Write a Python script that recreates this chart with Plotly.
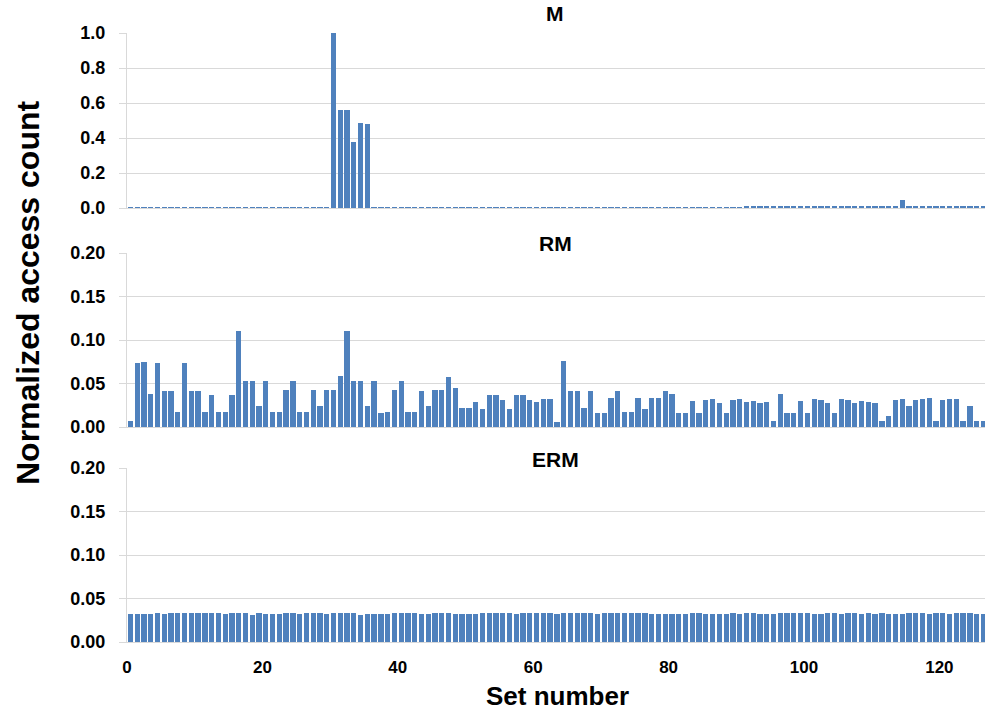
import plotly.graph_objects as go

set_numbers = list(range(128))

m_values = [
    0.005, 0.005, 0.005, 0.005, 0.005, 0.005, 0.005, 0.005, 0.005, 0.005,
    0.005, 0.005, 0.005, 0.002, 0.002, 0.002, 0.002, 0.002, 0.002, 0.002,
    0.002, 0.002, 0.002, 0.002, 0.002, 0.002, 0.002, 0.002, 0.002, 0.002,
    1.0, 0.558, 0.558, 0.375, 0.484, 0.48, 0.002, 0.002, 0.002, 0.002,
    0.002, 0.002, 0.002, 0.002, 0.002, 0.002, 0.002, 0.002, 0.002, 0.002,
    0.002, 0.002, 0.002, 0.002, 0.002, 0.002, 0.002, 0.002, 0.002, 0.002,
    0.002, 0.002, 0.002, 0.002, 0.002, 0.002, 0.002, 0.002, 0.004, 0.004,
    0.004, 0.004, 0.004, 0.004, 0.004, 0.004, 0.004, 0.004, 0.004, 0.004,
    0.004, 0.004, 0.004, 0.004, 0.004, 0.004, 0.004, 0.004, 0.004, 0.004,
    0.004, 0.006, 0.008, 0.008, 0.008, 0.008, 0.012, 0.012, 0.012, 0.012,
    0.012, 0.012, 0.012, 0.012, 0.012, 0.012, 0.012, 0.012, 0.012, 0.012,
    0.012, 0.012, 0.012, 0.006, 0.047, 0.006, 0.012, 0.006, 0.006, 0.008,
    0.006, 0.006, 0.006, 0.006, 0.006, 0.006, 0.006, 0.006,
]

rm_values = [
    0.0065, 0.074, 0.075, 0.038, 0.074, 0.041, 0.041, 0.0175, 0.074, 0.041,
    0.041, 0.0175, 0.037, 0.0175, 0.017, 0.037, 0.110, 0.053, 0.053, 0.024,
    0.053, 0.0175, 0.017, 0.043, 0.053, 0.017, 0.017, 0.043, 0.024, 0.043,
    0.043, 0.0587, 0.110, 0.053, 0.053, 0.024, 0.053, 0.0165, 0.017, 0.043,
    0.053, 0.017, 0.017, 0.0415, 0.024, 0.043, 0.043, 0.058, 0.0446, 0.0213,
    0.0213, 0.029, 0.021, 0.0373, 0.0373, 0.031, 0.021, 0.037, 0.037, 0.031,
    0.0286, 0.032, 0.032, 0.0061, 0.0754, 0.0415, 0.0415, 0.0213, 0.041, 0.0164,
    0.0164, 0.0328, 0.0415, 0.017, 0.017, 0.0328, 0.0206, 0.0335, 0.0335, 0.0415,
    0.0385, 0.016, 0.0164, 0.030, 0.016, 0.031, 0.032, 0.028, 0.0164, 0.031,
    0.032, 0.0286, 0.0297, 0.028, 0.0286, 0.0072, 0.038, 0.0156, 0.016, 0.0297,
    0.016, 0.032, 0.031, 0.028, 0.0156, 0.032, 0.031, 0.0274, 0.0297, 0.029,
    0.028, 0.0072, 0.013, 0.031, 0.032, 0.0236, 0.031, 0.032, 0.0328, 0.0069,
    0.031, 0.032, 0.032, 0.0069, 0.024, 0.0069, 0.0069, 0.007,
]

erm_values = [
    0.0321, 0.0321, 0.0321, 0.0325, 0.0329, 0.0325, 0.0329, 0.0329, 0.0336, 0.0329,
    0.0333, 0.0329, 0.0329, 0.0329, 0.0325, 0.0329, 0.0329, 0.0333, 0.0314, 0.0333,
    0.0325, 0.0317, 0.0325, 0.0329, 0.0333, 0.0325, 0.0333, 0.0329, 0.0329, 0.0325,
    0.0333, 0.0329, 0.0333, 0.0333, 0.0314, 0.0325, 0.0325, 0.0325, 0.0317, 0.0329,
    0.0333, 0.0333, 0.0329, 0.0317, 0.0321, 0.0333, 0.0329, 0.0329, 0.0317, 0.0317,
    0.0317, 0.0321, 0.0329, 0.0333, 0.0329, 0.0333, 0.0329, 0.0317, 0.0333, 0.0329,
    0.0333, 0.0329, 0.0329, 0.0321, 0.0329, 0.0329, 0.0333, 0.0329, 0.0329, 0.0317,
    0.0329, 0.0329, 0.0329, 0.0333, 0.0329, 0.0333, 0.0329, 0.0321, 0.0321, 0.0317,
    0.0321, 0.0321, 0.0321, 0.0333, 0.0329, 0.0321, 0.0321, 0.0321, 0.0321, 0.0329,
    0.0317, 0.0333, 0.0329, 0.0321, 0.0317, 0.0321, 0.0333, 0.0329, 0.0333, 0.0333,
    0.0333, 0.0317, 0.0321, 0.0333, 0.0329, 0.0325, 0.0329, 0.0329, 0.0325, 0.0329,
    0.0325, 0.0329, 0.0321, 0.0321, 0.0325, 0.0329, 0.0329, 0.0329, 0.0325, 0.0333,
    0.0333, 0.0321, 0.0329, 0.0333, 0.0329, 0.0325, 0.0325, 0.0325,
]

panel_titles = ["M", "RM", "ERM"]
x_tick_values = [0, 20, 40, 60, 80, 100, 120]
m_ticks = [0.0, 0.2, 0.4, 0.6, 0.8, 1.0]
rm_ticks = [0.00, 0.05, 0.10, 0.15, 0.20]

BAR_COLOR = "#4F81BD"
GRID = "#D9D9D9"
FONT = "Liberation Sans, Arial"
TICK_FONT = dict(family=FONT, size=18, color="#000000", weight="bold")

fig = go.Figure()

series = [m_values, rm_values, erm_values]
axis_ids = ["", "2", "3"]
for vals, aid in zip(series, axis_ids):
    fig.add_trace(go.Bar(
        x=set_numbers, y=vals, width=0.78, offset=0.11,
        marker=dict(color=BAR_COLOR, line=dict(width=0)),
        xaxis="x" + aid, yaxis="y" + aid, showlegend=False,
    ))

# pixel layout: plot area from y=33 to y=642 (height 609)
H = 609.0
domains = [
    ((642 - 208) / H, 1.0),
    ((642 - 427) / H, (642 - 253) / H),
    (0.0, (642 - 468) / H),
]
x_range = [0, (985 - 127) / 6.77]

layout = dict(
    width=985, height=711,
    margin=dict(l=127, r=0, t=33, b=69),
    paper_bgcolor="white", plot_bgcolor="white",
    bargap=0,
)
for i, aid in enumerate(axis_ids):
    xa = dict(
        domain=[0, 1], range=x_range, anchor="y" + aid,
        showgrid=False, zeroline=False,
        showline=True, linecolor=GRID, linewidth=1,
        tickvals=x_tick_values, ticks="",
        showticklabels=(i == 2),
        tickfont=dict(family=FONT, size=17, color="#000", weight="bold"),
        ticklabelstandoff=10,
    )
    if i < 2:
        xa["matches"] = "x3"
    ya = dict(
        domain=list(domains[i]), anchor="x" + aid,
        showgrid=True, gridcolor=GRID, gridwidth=1,
        zeroline=False, showline=True, linecolor=GRID, linewidth=1,
        ticks="outside", ticklen=7, tickcolor=GRID,
        tickfont=TICK_FONT, ticklabelstandoff=10,
    )
    if i == 0:
        ya.update(range=[0, 1.0], tickvals=m_ticks, tickformat=".1f")
    else:
        ya.update(range=[0, 0.2], tickvals=rm_ticks, tickformat=".2f")
    layout["xaxis" + aid] = xa
    layout["yaxis" + aid] = ya

fig.update_layout(**layout)

title_y_px = [14, 243, 460]
for t, ypx in zip(panel_titles, title_y_px):
    fig.add_annotation(
        text="<b>%s</b>" % t, xref="paper", yref="paper",
        x=(555 - 127) / 858.0, y=(642 - ypx) / H,
        showarrow=False, xanchor="center", yanchor="middle",
        font=dict(family=FONT, size=21, color="#000"),
    )

fig.add_annotation(
    text="<b>Set number</b>", xref="paper", yref="paper",
    x=(557 - 127) / 858.0, y=(642 - 696) / H,
    showarrow=False, xanchor="center", yanchor="middle",
    font=dict(family=FONT, size=26, color="#000"),
)
fig.add_annotation(
    text="<b>Normalized access count</b>", xref="paper", yref="paper",
    x=(28 - 127) / 858.0, y=(642 - 293) / H, textangle=-90,
    showarrow=False, xanchor="center", yanchor="middle",
    font=dict(family=FONT, size=32, color="#000"),
)

fig.write_html("out.html")
